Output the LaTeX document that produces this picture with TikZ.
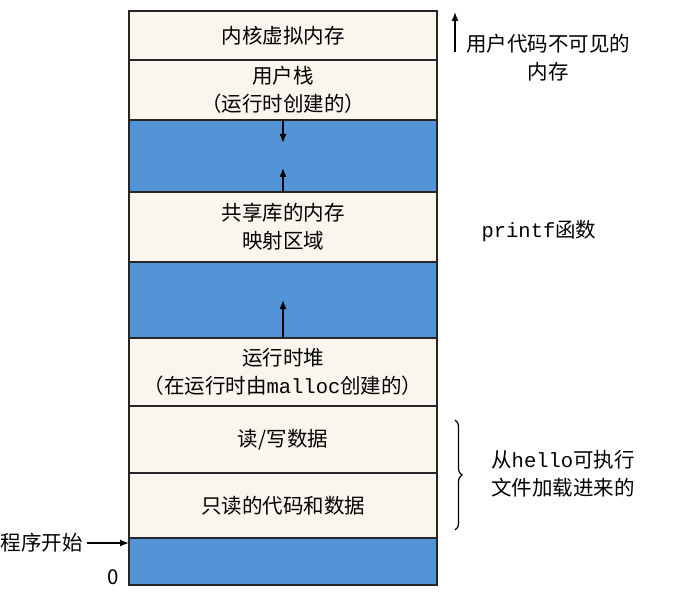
\documentclass[tikz,border=0pt]{standalone}
\usepackage{fontspec}
\setmainfont{Noto Sans CJK SC}
\setmonofont{Liberation Mono}
\usetikzlibrary{positioning,decorations.pathreplacing,arrows.meta}
\definecolor{memblue}{RGB}{82,148,214}
\definecolor{memcream}{RGB}{250,246,238}

\begin{document}
\begin{tikzpicture}[x=1pt,y=-1pt,font=\fontsize{20.5}{28}\selectfont,
  >={Latex[length=9pt,width=7pt]},
  region/.style={draw=black!85,line width=1.2pt,fill=memcream,minimum width=308pt,
    inner sep=0pt,outer sep=0pt,align=center},
  gap/.style={region,fill=memblue},
  growarrow/.style={->,line width=1.3pt}]
\useasboundingbox (0,0) rectangle (683,596);
% address space, top to bottom
\node[region,minimum height=49pt] (kernel) at (283,35.5) {内核虚拟内存};
\node[region,minimum height=60pt,below=0pt of kernel] (ustack) {用户栈\\（运行时创建的）};
\node[gap,minimum height=72pt,below=0pt of ustack] (gapstack) {};
\node[region,minimum height=70pt,below=0pt of gapstack] (shlib) {共享库的内存\\映射区域};
\node[gap,minimum height=76pt,below=0pt of shlib] (gapheap) {};
\node[region,minimum height=68pt,below=0pt of gapheap] (heap) {运行时堆\\（在运行时由\texttt{malloc}创建的）};
\node[region,minimum height=67pt,below=0pt of heap] (rwdata) {读/写数据};
\node[region,minimum height=65pt,below=0pt of rwdata] (rodata) {只读的代码和数据};
\node[gap,minimum height=47pt,below=0pt of rodata] (gapzero) {};
% growth arrows
\coordinate[below=23pt of ustack.south] (stacktip);
\coordinate[above=24pt of shlib.north] (libtip);
\coordinate[above=38pt of heap.north] (heaptip);
\draw[growarrow] (ustack.south) -- (stacktip);
\draw[growarrow] (shlib.north) -- (libtip);
\draw[growarrow] (heap.north) -- (heaptip);
% labels on the right
\node[align=center] (invisible) at (548,58) {用户代码不可见的\\内存};
\coordinate (invlow) at (455,52);
\coordinate (invhigh) at (455,12);
\draw[growarrow] (invlow) -- (invhigh);
\node (printf) at (539,231) {\texttt{printf}函数};
\coordinate (bracetop) at (455,420);
\coordinate (bracebot) at (455,530);
\draw[line width=1.2pt,decorate,decoration={brace,amplitude=7pt}] (bracetop) -- (bracebot);
\node[align=left] (loaded) at (563,474) {从\texttt{hello}可执行\\文件加载进来的};
% labels on the left
\node (progstart) at (42,543) {程序开始};
\draw[growarrow] (progstart.east) -- (progstart.east -| gapzero.west);
\node (zero) at (113,577) {0};
\end{tikzpicture}
\end{document}
